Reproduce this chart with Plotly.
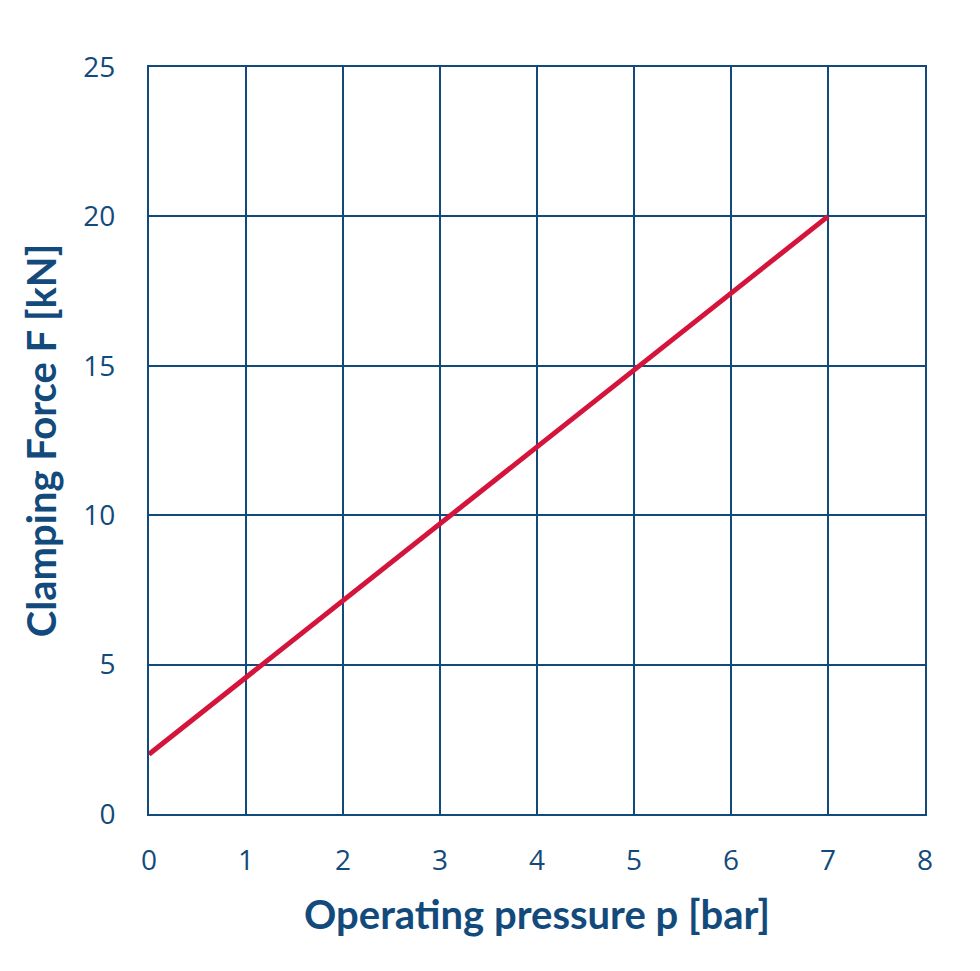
import plotly.graph_objects as go

pressure_bar = [0, 7]
force_kN = [2, 20]
x_ticks = [0, 1, 2, 3, 4, 5, 6, 7, 8]
y_ticks = [0, 5, 10, 15, 20, 25]

blue = "#134a7c"
red = "#d5143c"

fig = go.Figure()
fig.add_trace(go.Scatter(x=pressure_bar, y=force_kN, mode="lines",
                         line=dict(color=red, width=5), showlegend=False))

fig.update_layout(
    width=980, height=971,
    margin=dict(l=149, r=55, t=67, b=157),
    paper_bgcolor="white", plot_bgcolor="white",
    font=dict(family="Open Sans", color=blue),
)
fig.update_xaxes(
    range=[0, 8], tickvals=x_ticks, ticktext=[str(v) for v in x_ticks],
    showgrid=True, gridcolor=blue, gridwidth=2,
    showline=True, linecolor=blue, linewidth=2, mirror=True,
    zeroline=False, ticks="outside", ticklen=20, tickcolor="rgba(0,0,0,0)",
    tickfont=dict(size=28, color=blue, family="Open Sans"),
    title=dict(text="Operating pressure p [bar]", standoff=24,
               font=dict(size=40, color=blue, family="Lato", weight="bold")),
)
fig.update_yaxes(
    range=[0, 25], tickvals=y_ticks, ticktext=[str(v) for v in y_ticks],
    showgrid=True, gridcolor=blue, gridwidth=2,
    showline=True, linecolor=blue, linewidth=2, mirror=True,
    zeroline=False, ticks="outside", ticklen=26, tickcolor="rgba(0,0,0,0)",
    tickfont=dict(size=28, color=blue, family="Open Sans"),
    title=dict(text="Clamping Force F [kN]", standoff=14,
               font=dict(size=40, color=blue, family="Lato", weight="bold")),
)
fig.write_html("out.html")
